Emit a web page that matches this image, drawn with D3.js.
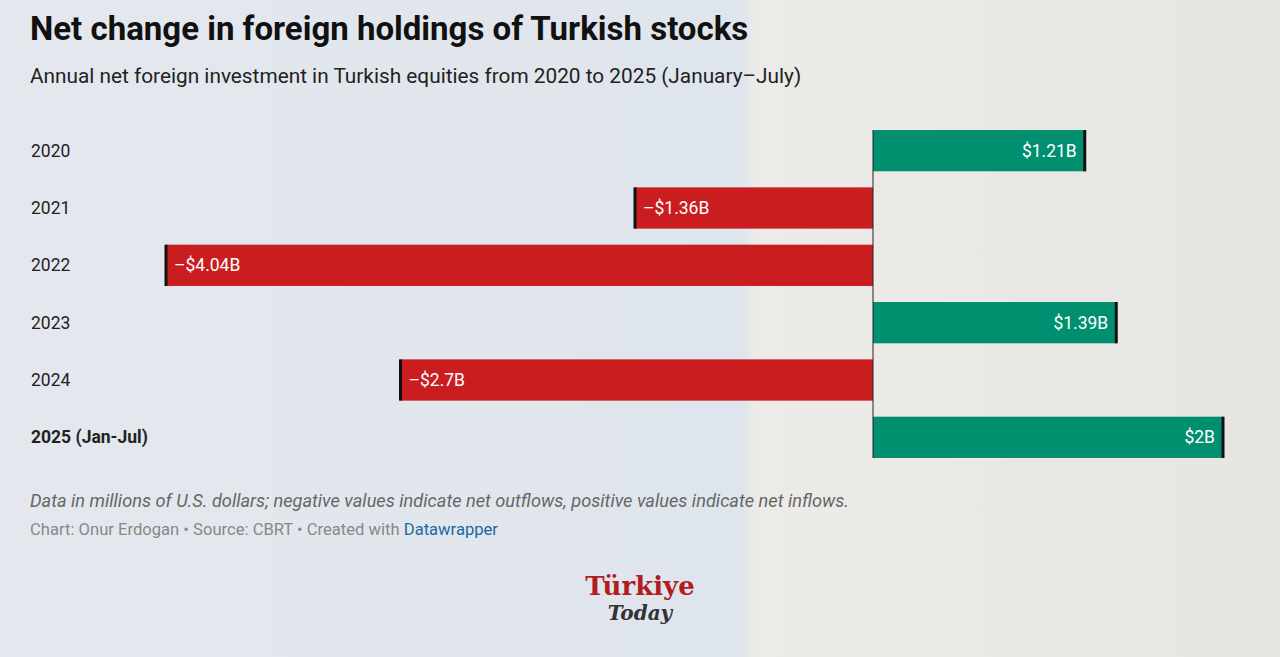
<!DOCTYPE html>
<head>
    <meta charset="utf-8"/>
    <script src="https://d3js.org/d3.v7.min.js"></script>
    <style>
        body { margin: 0; font-family: Roboto, sans-serif; }
    </style>
</head>
<body>
<script>
    var years = ["2020", "2021", "2022", "2023", "2024", "2025 (Jan-Jul)"];
    var values = [1.21, -1.36, -4.04, 1.39, -2.7, 2];
    var labels = ["$1.21B", "\u2013$1.36B", "\u2013$4.04B", "$1.39B", "\u2013$2.7B", "$2B"];

    var width = 1280, height = 657;
    var svg = d3.select("body").append("svg").attr("width", width).attr("height", height);

    var defs = svg.append("defs");
    var grad = defs.append("linearGradient").attr("id", "bg");
    grad.append("stop").attr("offset", "0%").attr("stop-color", "#e4e8ee");
    grad.append("stop").attr("offset", "58%").attr("stop-color", "#dfe5ec");
    grad.append("stop").attr("offset", "59%").attr("stop-color", "#ecebe8");
    grad.append("stop").attr("offset", "100%").attr("stop-color", "#e6e5e2");
    svg.append("rect").attr("width", width).attr("height", height).attr("fill", "url(#bg)");

    svg.append("text").attr("x", 30).attr("y", 40).attr("font-size", 33).attr("font-weight", 700)
        .attr("fill", "#111").text("Net change in foreign holdings of Turkish stocks");
    svg.append("text").attr("x", 30).attr("y", 83).attr("font-size", 20.8).attr("fill", "#222")
        .text("Annual net foreign investment in Turkish equities from 2020 to 2025 (January\u2013July)");

    var x = d3.scaleLinear().domain([-4.04, 2]).range([166, 1223]);
    var y = d3.scaleBand().domain(years).range([122, 466]).paddingInner(0.28).paddingOuter(0.14);

    var g = svg.append("g");
    years.forEach(function (yr, i) {
        var v = values[i];
        var x0 = x(Math.min(0, v)), x1 = x(Math.max(0, v));
        g.append("rect").attr("x", x0).attr("y", y(yr)).attr("width", x1 - x0).attr("height", y.bandwidth())
            .attr("fill", v < 0 ? "#c91d1f" : "#00906f");
        var xe = x(v);
        g.append("rect").attr("x", xe - 1.5).attr("y", y(yr)).attr("width", 3)
            .attr("height", y.bandwidth()).attr("fill", "#111");
        g.append("text").attr("x", v < 0 ? xe + 8 : xe - 8).attr("y", y(yr) + y.bandwidth() / 2 + 6)
            .attr("text-anchor", v < 0 ? "start" : "end").attr("fill", "#fff").attr("font-size", 17.5)
            .text(labels[i]);
        g.append("text").attr("x", 31).attr("y", y(yr) + y.bandwidth() / 2 + 6)
            .attr("font-size", 17.5).attr("fill", "#222").attr("font-weight", i === 5 ? 700 : 400).text(yr);
    });
    g.append("line").attr("x1", x(0)).attr("x2", x(0)).attr("y1", 130).attr("y2", 458)
        .attr("stroke", "#222").attr("stroke-width", 1);

    svg.append("text").attr("x", 30).attr("y", 507).attr("font-size", 18.2).attr("font-style", "italic")
        .attr("fill", "#666").text("Data in millions of U.S. dollars; negative values indicate net outflows, positive values indicate net inflows.");
    var src = svg.append("text").attr("x", 30).attr("y", 535).attr("font-size", 16.6).attr("fill", "#888");
    src.append("tspan").text("Chart: Onur Erdogan \u2022 Source: CBRT \u2022 Created with ");
    src.append("tspan").attr("fill", "#1a6aa0").text("Datawrapper");

    svg.append("text").attr("x", 640).attr("y", 595).attr("text-anchor", "middle").attr("font-size", 26)
        .attr("font-weight", 700).attr("font-family", "DejaVu Serif, serif").attr("fill", "#b31c1f").text("Türkiye");
    svg.append("text").attr("x", 640).attr("y", 620).attr("text-anchor", "middle").attr("font-size", 20)
        .attr("font-weight", 700).attr("font-style", "italic").attr("font-family", "DejaVu Serif, serif")
        .attr("fill", "#333").text("Today");
</script>
</body>
